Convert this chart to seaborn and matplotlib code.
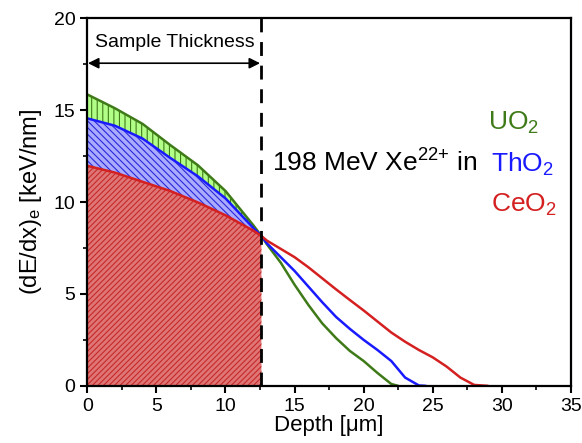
import seaborn as sns
import matplotlib.pyplot as plt
import pandas as pd
from matplotlib.ticker import MultipleLocator

# depth grid inside the sample (um) and dE/dx (keV/nm)
depth_sample = [0, 2, 4, 6, 8, 10, 12, 12.6]
uo2_sample = [15.85, 15.1, 14.25, 13.1, 12.0, 10.6, 8.75, 8.15]
tho2_sample = [14.55, 14.15, 13.45, 12.4, 11.4, 10.2, 8.6, 8.15]
ceo2_sample = [11.97, 11.6, 11.1, 10.6, 9.98, 9.28, 8.45, 8.15]

# behind the sample
uo2_depth = [13, 14, 15, 16, 17, 18, 19, 20, 21, 22, 22.5]
uo2_tail = [7.7, 6.7, 5.5, 4.4, 3.4, 2.6, 1.9, 1.35, 0.7, 0.1, 0.0]
tho2_depth = [13, 14, 15, 16, 17, 18, 19, 20, 21, 22, 23, 24, 24.5]
tho2_tail = [7.75, 7.0, 6.25, 5.4, 4.55, 3.75, 3.1, 2.5, 1.95, 1.35, 0.45, 0.02, 0.0]
ceo2_depth = [13, 14, 15, 16, 17, 18, 19, 20, 21, 22, 23, 24, 25, 26, 27, 28, 29]
ceo2_tail = [7.9, 7.45, 7.0, 6.45, 5.85, 5.25, 4.67, 4.1, 3.5, 2.9, 2.4, 1.95, 1.55, 1.05, 0.45, 0.05, 0.0]

thickness = 12.6
colors = {"UO2": "#3f7a18", "ThO2": "#1a1aff", "CeO2": "#d42020"}

rows = []
for name, ys, xt, yt in [("UO2", uo2_sample, uo2_depth, uo2_tail),
                         ("ThO2", tho2_sample, tho2_depth, tho2_tail),
                         ("CeO2", ceo2_sample, ceo2_depth, ceo2_tail)]:
    for x, y in zip(depth_sample + xt, ys + yt):
        rows.append({"Depth": x, "dEdx": y, "Material": name})
df = pd.DataFrame(rows)

sns.set_style("ticks")
plt.rcParams["font.family"] = ["Liberation Sans", "DejaVu Sans"]
plt.rcParams["mathtext.fontset"] = "custom"
plt.rcParams["mathtext.rm"] = "Liberation Sans"
plt.rcParams["mathtext.it"] = "Liberation Sans:italic"
plt.rcParams["hatch.linewidth"] = 0.8
for key in ["text.color", "axes.labelcolor", "xtick.color", "ytick.color", "axes.edgecolor"]:
    plt.rcParams[key] = "black"

fig, ax = plt.subplots(figsize=(5.82, 4.43), dpi=100)
fig.subplots_adjust(left=0.15, right=0.981, bottom=0.129, top=0.959)

# hatched areas inside the sample
ax.fill_between(depth_sample, 0, ceo2_sample, facecolor="#e07575",
                edgecolor="#c42a2a", hatch="//////", linewidth=0)
ax.fill_between(depth_sample, ceo2_sample, tho2_sample, facecolor="#aaaaff",
                edgecolor="#2a2ad8", hatch="\\\\\\\\\\", linewidth=0)
ax.fill_between(depth_sample, tho2_sample, uo2_sample, facecolor="#b2ff88",
                edgecolor="#3f7a18", hatch="|||", linewidth=0)

sns.lineplot(data=df, x="Depth", y="dEdx", hue="Material", palette=colors,
             linewidth=1.8, legend=False, ax=ax, sort=False, estimator=None)

ax.axvline(thickness, color="black", lw=2, dashes=(5, 3.5), zorder=5)
ax.annotate("", xy=(0.05, 17.55), xytext=(thickness - 0.1, 17.55),
            arrowprops=dict(arrowstyle="<|-|>", color="black", lw=1.2,
                            mutation_scale=16, shrinkA=0, shrinkB=0))
ax.text(thickness / 2, 18.7, "Sample Thickness", ha="center", va="center",
        fontsize=14)

ax.text(13.4, 11.65, "198 MeV Xe$^{22{+}}$ in", fontsize=19, va="baseline")
ax.text(29.0, 13.95, "UO$_2$", fontsize=19, va="baseline", color=colors["UO2"])
ax.text(29.2, 11.65, "ThO$_2$", fontsize=19, va="baseline", color=colors["ThO2"])
ax.text(29.2, 9.47, "CeO$_2$", fontsize=19, va="baseline", color=colors["CeO2"])

ax.set_xlim(0, 35)
ax.set_ylim(0, 20)
ax.xaxis.set_major_locator(MultipleLocator(5))
ax.xaxis.set_minor_locator(MultipleLocator(2.5))
ax.yaxis.set_major_locator(MultipleLocator(5))
ax.yaxis.set_minor_locator(MultipleLocator(2.5))
ax.tick_params(which="major", length=5, width=1.5, labelsize=14, direction="out")
ax.tick_params(which="minor", length=3, width=1.2, direction="out")
for s in ax.spines.values():
    s.set_linewidth(1.6)
ax.set_xlabel("Depth [\u03bcm]", fontsize=16, labelpad=0)
ax.set_ylabel("(dE/dx)$_\\mathrm{e}$ [keV/nm]", fontsize=17, labelpad=7)

fig.savefig("out.png", dpi=100)
